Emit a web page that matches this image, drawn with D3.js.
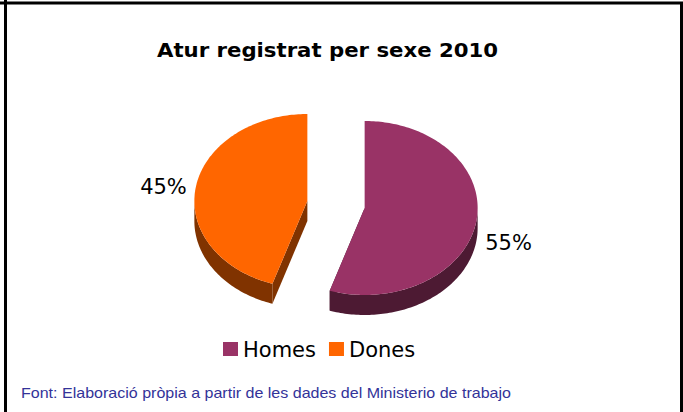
<!DOCTYPE html>
<html>
<head>
<meta charset="utf-8">
<script src="https://cdn.jsdelivr.net/npm/d3@7"></script>
<style>
  body { margin: 0; background: #fff; }
  svg { display: block; }
</style>
</head>
<body>
<script>
// chart data
var categories = ["Homes", "Dones"];
var shares = [55, 45];
var labels = ["55%", "45%"];
var colours = ["#993366", "#FF6600"];
var sideColours = ["#4d1a33", "#803300"];

var width = 683, height = 412;
var cx = 336, cy = 204.5;     // pie centre
var rx = 113, ry = 87;        // ellipse radii of the top face
var depth = 20;               // thickness of the pie
var explode = 29;

var svg = d3.select("body").append("svg")
    .attr("width", width)
    .attr("height", height);

// frame
svg.append("path")
    .attr("d", "M0,3H681.5V412M5.5,0V412")
    .attr("fill", "none")
    .attr("stroke", "#000")
    .attr("stroke-width", 3);

svg.append("text")
    .attr("x", 157)
    .attr("y", 57)
    .attr("textLength", 341)
    .attr("lengthAdjust", "spacingAndGlyphs")
    .style("font-family", "'DejaVu Sans', Verdana, sans-serif")
    .style("font-weight", "bold")
    .style("font-size", "19.5px")
    .text("Atur registrat per sexe 2010");

var pie = d3.pie().sort(null).value(function (d) { return d; });
var arcs = pie(shares).map(function (a, i) {
    var mid = (a.startAngle + a.endAngle) / 2;
    a.index = i;
    a.mid = mid;
    a.ox = cx + Math.sin(mid) * explode;
    a.oy = cy - Math.cos(mid) * explode * ry / rx;
    return a;
});

function pointAt(a, ang, k, dy) {
    return [a.ox + rx * k * Math.sin(ang), a.oy - ry * k * Math.cos(ang) + (dy || 0)];
}

function ellipseSamples(a, a0, a1, dy) {
    var pts = [];
    var n = Math.max(2, Math.ceil((a1 - a0) / 0.02));
    for (var j = 0; j <= n; j++) {
        pts.push(pointAt(a, a0 + (a1 - a0) * j / n, 1, dy));
    }
    return pts;
}

function line(pts) {
    return "M" + pts.map(function (p) { return p[0] + "," + p[1]; }).join("L") + "Z";
}

var g = svg.append("g");

// cut faces
arcs.forEach(function (a) {
    [a.startAngle, a.endAngle].forEach(function (ang) {
        var c = [a.ox, a.oy], e = pointAt(a, ang, 1);
        g.append("path")
            .attr("d", line([c, e, [e[0], e[1] + depth], [c[0], c[1] + depth]]))
            .attr("fill", sideColours[a.index]);
    });
});

// outer walls, front half only
arcs.forEach(function (a) {
    var a0 = Math.max(a.startAngle, Math.PI / 2);
    var a1 = Math.min(a.endAngle, Math.PI * 3 / 2);
    if (a1 <= a0) return;
    var top = ellipseSamples(a, a0, a1, 0);
    var bottom = ellipseSamples(a, a0, a1, depth).reverse();
    g.append("path")
        .attr("d", line(top.concat(bottom)))
        .attr("fill", sideColours[a.index]);
});

// top faces
arcs.forEach(function (a) {
    var pts = [[a.ox, a.oy]].concat(ellipseSamples(a, a.startAngle, a.endAngle, 0));
    g.append("path")
        .attr("d", line(pts))
        .attr("fill", colours[a.index]);
});

// percentage labels
arcs.forEach(function (a) {
    var p = pointAt(a, a.mid, 1.08, Math.cos(a.mid) < 0 ? depth : 0);
    svg.append("text")
        .attr("x", p[0])
        .attr("y", p[1])
        .attr("dy", "0.35em")
        .attr("text-anchor", Math.sin(a.mid) >= 0 ? "start" : "end")
        .style("font-family", "'DejaVu Sans', Verdana, sans-serif")
        .style("font-size", "21px")
        .text(labels[a.index]);
});

// legend
var legend = svg.append("g").attr("transform", "translate(223,342)");
var lx = 0;
categories.forEach(function (name, i) {
    var item = legend.append("g").attr("transform", "translate(" + lx + ",0)");
    item.append("rect")
        .attr("width", 15)
        .attr("height", 14)
        .attr("fill", colours[i]);
    var t = item.append("text")
        .attr("x", 20)
        .attr("y", 15)
        .style("font-family", "'DejaVu Sans', Verdana, sans-serif")
        .style("font-size", "21px")
        .text(name);
    lx += 20 + t.node().getComputedTextLength() + 13;
});

svg.append("text")
    .attr("x", 21)
    .attr("y", 398)
    .attr("textLength", 490)
    .attr("lengthAdjust", "spacingAndGlyphs")
    .attr("fill", "#333399")
    .style("font-family", "'Liberation Sans', Arial, sans-serif")
    .style("font-size", "14.5px")
    .text("Font: Elaboració pròpia a partir de les dades del Ministerio de trabajo");
</script>
</body>
</html>
